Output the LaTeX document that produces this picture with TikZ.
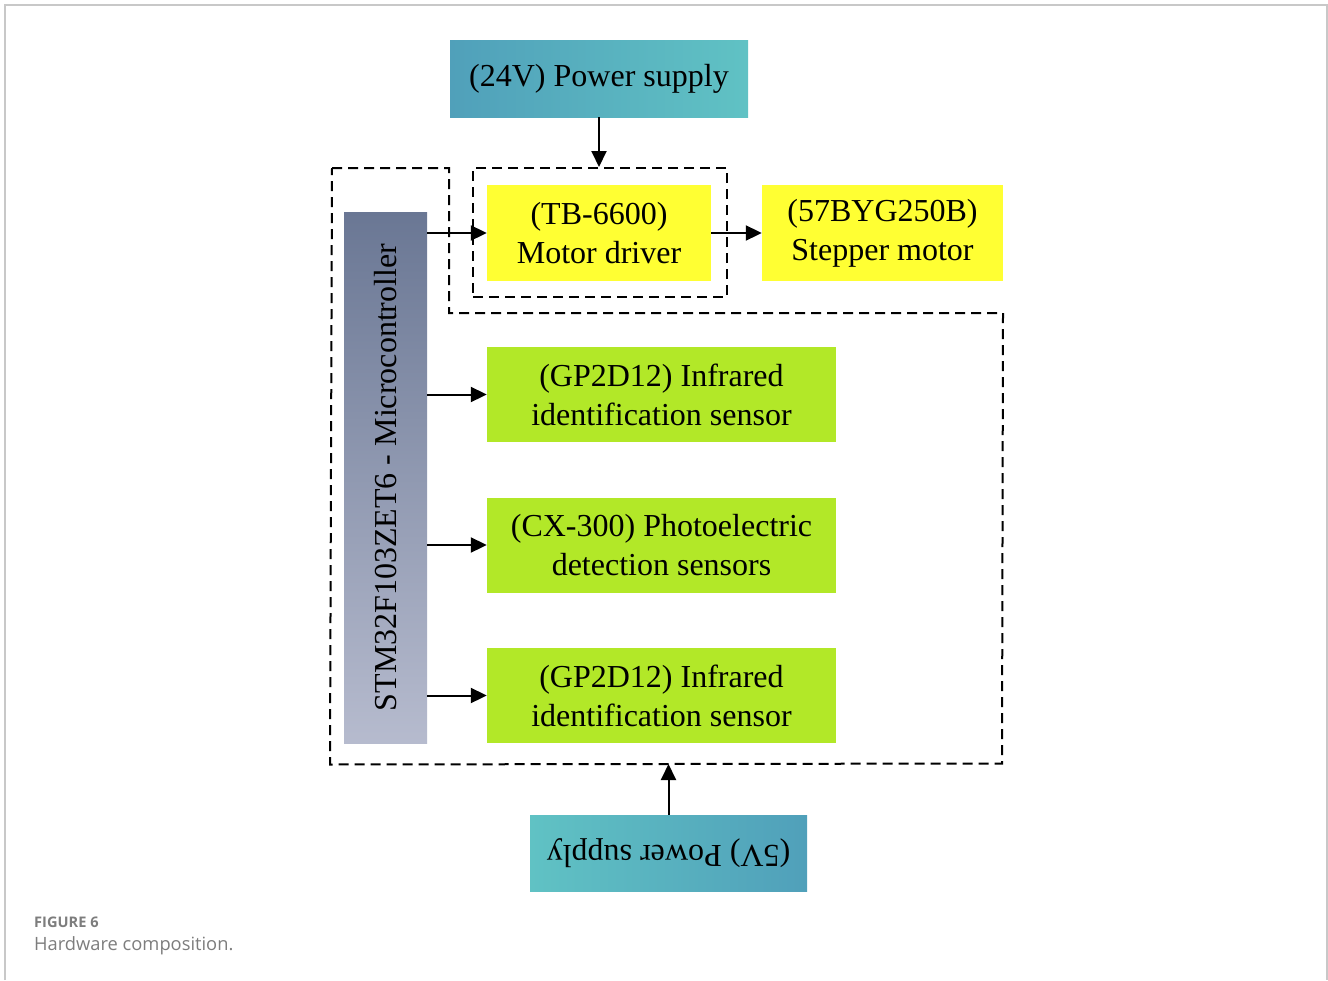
\documentclass[tikz,border=0pt]{standalone}
\usepackage{fontspec}
\setmainfont{Liberation Serif}
\newfontfamily\capfont{Open Sans}
\usetikzlibrary{arrows.meta}
\definecolor{tealdark}{RGB}{80,160,186}
\definecolor{teallight}{RGB}{96,194,196}
\definecolor{mcudark}{RGB}{106,119,148}
\definecolor{mculight}{RGB}{182,187,206}
\definecolor{yelbox}{RGB}{255,255,51}
\definecolor{grnbox}{RGB}{178,232,40}
\definecolor{capgray}{RGB}{125,125,125}
\definecolor{framegray}{RGB}{200,200,200}
\tikzset{
  blk/.style={rectangle, inner sep=0pt, align=center, font=\fontsize{32}{39}\selectfont},
  yel/.style={blk, fill=yelbox},
  grn/.style={blk, fill=grnbox, minimum width=349pt, minimum height=95pt},
  pwr/.style={blk},
  dsh/.style={line width=2pt, dash pattern=on 10pt off 6pt},
  arr/.style={line width=2pt, -{Triangle[length=16pt,width=15pt]}},
}
\begin{document}
\begin{tikzpicture}[x=1pt,y=-1pt]
\useasboundingbox (0,0) rectangle (1328,980);
\fill[white] (0,0) rectangle (1328,980);
\draw[framegray, line width=2pt] (4.5,980) -- (4.5,4.5) -- (1326.5,4.5) -- (1326.5,980);

% blocks
\node[pwr, left color=tealdark, right color=teallight, minimum width=298pt, minimum height=77pt] (p24) at (599,78.5) {\raisebox{-2pt}{(24V) Power supply}};
\node[rectangle, draw, dsh, minimum width=254pt, minimum height=129pt] (drv) at (600,232.5) {};
\node[yel, minimum width=224pt, minimum height=96pt] (md) at (599,233) {(TB-6600)\\Motor driver};
\node[yel, minimum width=241pt, minimum height=96pt] (sm) at (882.5,233) {(57BYG250B)\\Stepper motor};
\node[blk, rotate=90, top color=mcudark, bottom color=mculight, minimum width=531pt, minimum height=83pt] (mcu) at (385.5,477.5) {STM32F103ZET6 - Microcontroller};
\node[grn] (g1) at (661.5,394.5) {(GP2D12) Infrared\\identification sensor};
\node[grn] (g2) at (661.5,545) {(CX-300) Photoelectric\\detection sensors};
\node[grn] (g3) at (661.5,695.5) {(GP2D12) Infrared\\identification sensor};
\node[pwr, rotate=180, left color=teallight, right color=tealdark, minimum width=277pt, minimum height=76pt] (p5) at (668.5,853) {\raisebox{-2pt}{(5V) Power supply}};

% outer dashed boundary
\coordinate (o1) at (332,168);
\coordinate (o2) at (449,168);
\coordinate (o3) at (449,313);
\coordinate (o4) at (1003,313);
\coordinate (o5) at (1002,763.5);
\coordinate (o6) at (330,764.5);
\draw[dsh] (o1) -- (o2) -- (o3) -- (o4) -- (o5) -- (o6) -- cycle;

% connectors
\draw[arr] (p24.south) -- (p24.south |- drv.north);
\draw[arr] (md.east) -- (sm.west);
\draw[arr] (mcu.south |- md.west) -- (md.west);
\draw[arr] (mcu.south |- g1.west) -- (g1.west);
\draw[arr] (mcu.south |- g2.west) -- (g2.west);
\draw[arr] (mcu.south |- g3.west) -- (g3.west);
\coordinate (b5) at (668.5,764);
\draw[arr] (p5.south) -- (b5);

% caption
\node[anchor=base west, inner sep=0pt, text=capgray, font=\capfont\fontsize{14.6}{16}\selectfont\bfseries] (cap1) at (34,927) {FIGURE 6};
\node[anchor=base west, inner sep=0pt, text=capgray, font=\capfont\fontsize{18.3}{20}\selectfont] (cap2) at (34,950) {Hardware composition.};
\end{tikzpicture}
\end{document}
